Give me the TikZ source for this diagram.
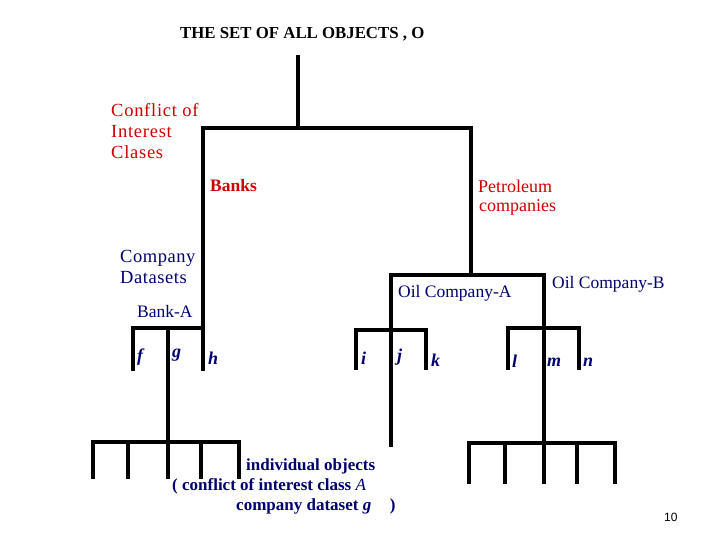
\documentclass[tikz,border=0pt]{standalone}
\usepackage{fontspec}
\setmainfont{Liberation Serif}
\setsansfont{Liberation Sans}
\definecolor{cired}{RGB}{204,0,0}
\definecolor{cinavy}{RGB}{0,0,110}
\tikzset{
  branch/.style={line width=3.3pt, line cap=rect},
  lbl/.style={inner sep=0pt, anchor=west, align=left},
  classlbl/.style={lbl, text=cired, font=\fontsize{18}{21}\selectfont},
  setlbl/.style={lbl, text=cinavy, font=\fontsize{17.5}{21}\selectfont},
  objlbl/.style={lbl, text=cinavy, font=\fontsize{18}{21}\selectfont\bfseries\itshape},
  notelbl/.style={lbl, text=cinavy, font=\fontsize{17}{20}\selectfont\bfseries}
}
\begin{document}
\begin{tikzpicture}[x=1pt, y=-1pt]
  \useasboundingbox (0,0) rectangle (720,540);

  % Title and root
  \node[lbl, font=\fontsize{16.8}{20}\selectfont\bfseries] (title) at (180,34) {THE SET OF ALL OBJECTS , O};
  \coordinate (rootTop) at (298,57);
  \coordinate (root) at (298,128);
  \coordinate (banks) at (203,128);
  \coordinate (petro) at (471,128);

  % Conflict of interest classes
  \node[classlbl, font=\fontsize{18.5}{21}\selectfont\addfontfeature{LetterSpace=4}] (conflict) at (111,131) {Conflict of\\Interest\\Clases};
  \node[classlbl, font=\fontsize{17.5}{21}\selectfont\bfseries] (banksLbl) at (210,186) {Banks};
  \node[classlbl, font=\fontsize{18}{19}\selectfont] (petroLbl) at (478,197.5) {Petroleum\\\hspace*{1pt}companies};

  % Company datasets
  \node[setlbl, font=\fontsize{18.5}{21}\selectfont\addfontfeature{LetterSpace=3}] (datasets) at (120,266.5) {Company\\Datasets};
  \node[setlbl] (bankALbl) at (137,312) {Bank-A};
  \node[setlbl] (oilALbl) at (398,293) {Oil Company-A};
  \node[setlbl] (oilBLbl) at (552,284) {Oil Company-B};

  \coordinate (bankA) at (203,328);
  \coordinate (oilBar) at (471,275);
  \coordinate (oilA) at (391,275);
  \coordinate (oilB) at (544,275);

  % Objects of each dataset
  \coordinate (f) at (133,328);
  \coordinate (g) at (168,328);
  \coordinate (i) at (356,330);
  \coordinate (j) at (391,330);
  \coordinate (k) at (426,330);
  \coordinate (l) at (508,328);
  \coordinate (m) at (544,328);
  \coordinate (n) at (579,328);
  \node[objlbl] (fLbl) at (137,357) {f};
  \node[objlbl] (gLbl) at (172,355) {g};
  \node[objlbl] (hLbl) at (208,358) {h};
  \node[objlbl] (iLbl) at (361,358) {i};
  \node[objlbl] (jLbl) at (397,357) {j};
  \node[objlbl] (kLbl) at (431,360) {k};
  \node[objlbl] (lLbl) at (512,361) {l};
  \node[objlbl] (mLbl) at (547,362) {m};
  \node[objlbl] (nLbl) at (583,362) {n};

  % Tree
  \draw[branch] (rootTop) -- (root);
  \draw[branch] (banks) -- (petro);
  \draw[branch] (banks) -- (203,369);
  \draw[branch] (petro) -- (oilBar);
  \draw[branch] (oilA) -- (oilB);
  \draw[branch] (f) -- (bankA);
  \draw[branch] (f) -- (133,369);
  \draw[branch] (g) -- (168,477);
  \draw[branch] (i) -- (k);
  \draw[branch] (i) -- (356,368);
  \draw[branch] (k) -- (426,368);
  \draw[branch] (oilA) -- (391,445);
  \draw[branch] (l) -- (n);
  \draw[branch] (l) -- (508,368);
  \draw[branch] (n) -- (579,368);
  \draw[branch] (oilB) -- (544,482);

  % Individual objects
  \draw[branch] (93,442) -- (239,442);
  \foreach \x in {93,128,201,239} \draw[branch] (\x,442) -- (\x,477);
  \draw[branch] (469,443) -- (615,443);
  \foreach \x in {469,505,577,615} \draw[branch] (\x,443) -- (\x,482);

  \node[notelbl] (objLbl) at (246,466) {individual objects};
  \node[notelbl] (objNote) at (172,486) {( conflict of interest class \textit{\mdseries A}};
  \node[notelbl] (objNote2) at (236,506) {company dataset \textit{g}\hspace{1.1em})};

  \node[lbl, font=\sffamily\fontsize{12}{14}\selectfont] (page) at (664,517) {10};
\end{tikzpicture}
\end{document}
